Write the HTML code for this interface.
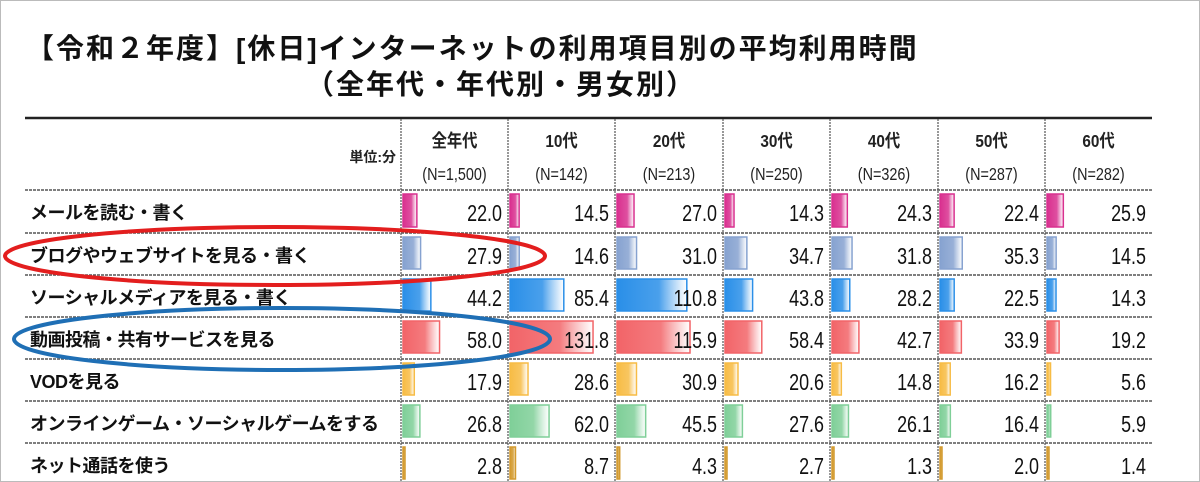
<!DOCTYPE html>
<html><head><meta charset="utf-8">
<style>
body{margin:0;background:#fff;}
#wrap{position:relative;width:1200px;height:482px;overflow:hidden;background:#fff;font-family:"Liberation Sans","Noto Sans CJK JP",sans-serif;}
.t{position:absolute;font-weight:bold;font-size:28px;color:#111;white-space:nowrap;letter-spacing:2px;}
</style></head><body>
<div id="wrap">
<div class="t" style="left:26px;top:27px;">【令和２年度】[休日]インターネットの利用項目別の平均利用時間</div>
<div class="t" style="left:306px;top:63px;">（全年代・年代別・男女別）</div>
<svg id="svg" width="1200" height="482" style="position:absolute;left:0;top:0"></svg>
</div>
<script>
const categories=["メールを読む・書く","ブログやウェブサイトを見る・書く","ソーシャルメディアを見る・書く","動画投稿・共有サービスを見る","VODを見る","オンラインゲーム・ソーシャルゲームをする","ネット通話を使う"];
const groups=["全年代","10代","20代","30代","40代","50代","60代"];
const groupN=["(N=1,500)","(N=142)","(N=213)","(N=250)","(N=326)","(N=287)","(N=282)"];
const vMail=[22.0,14.5,27.0,14.3,24.3,22.4,25.9];
const vBlog=[27.9,14.6,31.0,34.7,31.8,35.3,14.5];
const vSocial=[44.2,85.4,110.8,43.8,28.2,22.5,14.3];
const vVideo=[58.0,131.8,115.9,58.4,42.7,33.9,19.2];
const vVod=[17.9,28.6,30.9,20.6,14.8,16.2,5.6];
const vGame=[26.8,62.0,45.5,27.6,26.1,16.4,5.9];
const vCall=[2.8,8.7,4.3,2.7,1.3,2.0,1.4];
const series=[vMail,vBlog,vSocial,vVideo,vVod,vGame,vCall];
const colors=["#d9308f","#86a2d0","#2a8fe8","#f26468","#f7bc45","#7fcf98","#d39a2e"];
const NS="http://www.w3.org/2000/svg";
const svg=document.getElementById('svg');
function mk(t,a){const e=document.createElementNS(NS,t);for(const k in a)e.setAttribute(k,a[k]);svg.appendChild(e);return e;}
const colX=[401,508,615,723,830,938,1045,1152];
const rowY=[190,233,275,317,359,401,443,485];
const pxPerUnit=0.63;
function xs(i,v){return colX[i]+2+v*pxPerUnit;}
const defs=mk('defs',{});
colors.forEach((c,i)=>{const g=document.createElementNS(NS,'linearGradient');g.setAttribute('id','g'+i);g.setAttribute('x1','0');g.setAttribute('x2','1');
 [[0,c,1],[0.6,c,0.85],[1,'#ffffff',0.7]].forEach(s=>{const st=document.createElementNS(NS,'stop');st.setAttribute('offset',s[0]);st.setAttribute('stop-color',s[1]);st.setAttribute('stop-opacity',s[2]);g.appendChild(st);});defs.appendChild(g);});
let e=mk('rect',{x:0.5,y:0.5,width:1199,height:481,fill:'none',stroke:'#bbb','stroke-width':1});

e=mk('line',{x1:25,x2:1152,y1:118,y2:118,stroke:'#222','stroke-width':2.5});

for(let i=0;i<colX.length-1;i++){
 e=mk('line',{x1:colX[i],x2:colX[i],y1:119,y2:482,stroke:'#555','stroke-width':1.2,'stroke-dasharray':'2,1'});
 
 const cx=(colX[i]+colX[i+1])/2;
 e=mk('text',{x:cx,y:147,'text-anchor':'middle','font-size':18,'font-weight':'bold',fill:'#222',transform:'translate('+cx+',0) scale(0.85,1) translate('+(-cx)+',0)'});e.textContent=groups[i];
 
 e=mk('text',{x:cx,y:180,'text-anchor':'middle','font-size':18,fill:'#222',transform:'translate('+cx+',0) scale(0.8,1) translate('+(-cx)+',0)'});e.textContent=groupN[i];
 
}
e=mk('text',{x:396,y:162,'text-anchor':'end','font-size':14,'font-weight':'bold',fill:'#222'});e.textContent='単位:分';

for(let r=0;r<categories.length;r++){
 const y0=rowY[r],y1=rowY[r+1];
 e=mk('line',{x1:25,x2:1152,y1:y0,y2:y0,stroke:'#555','stroke-width':1.5,'stroke-dasharray':'3,1'});
 
 e=mk('text',{x:30,y:y0+29,'font-size':18,'font-weight':'bold',fill:'#111','letter-spacing':'-0.5'});e.textContent=categories[r];
 
 for(let i=0;i<7;i++){
  const v=series[r][i];
  e=mk('rect',{x:colX[i]+2,y:y0+4,width:Math.max(2,xs(i,v)-colX[i]-2),height:y1-y0-10,fill:'url(#g'+r+')',stroke:colors[r],'stroke-width':1.5});
  
  const tx=colX[i+1]-6;
  e=mk('text',{x:tx,y:y0+31,'text-anchor':'end','font-size':23,fill:'#111',transform:'translate('+tx+',0) scale(0.78,1) translate('+(-tx)+',0)'});e.textContent=v.toFixed(1);
  
 }
}
e=mk('ellipse',{cx:275,cy:256,rx:270,ry:29,fill:'none',stroke:'#e31e1e','stroke-width':4});

e=mk('ellipse',{cx:282,cy:339,rx:268,ry:31,fill:'none',stroke:'#1f6fb5','stroke-width':4});

</script>
</body></html>
